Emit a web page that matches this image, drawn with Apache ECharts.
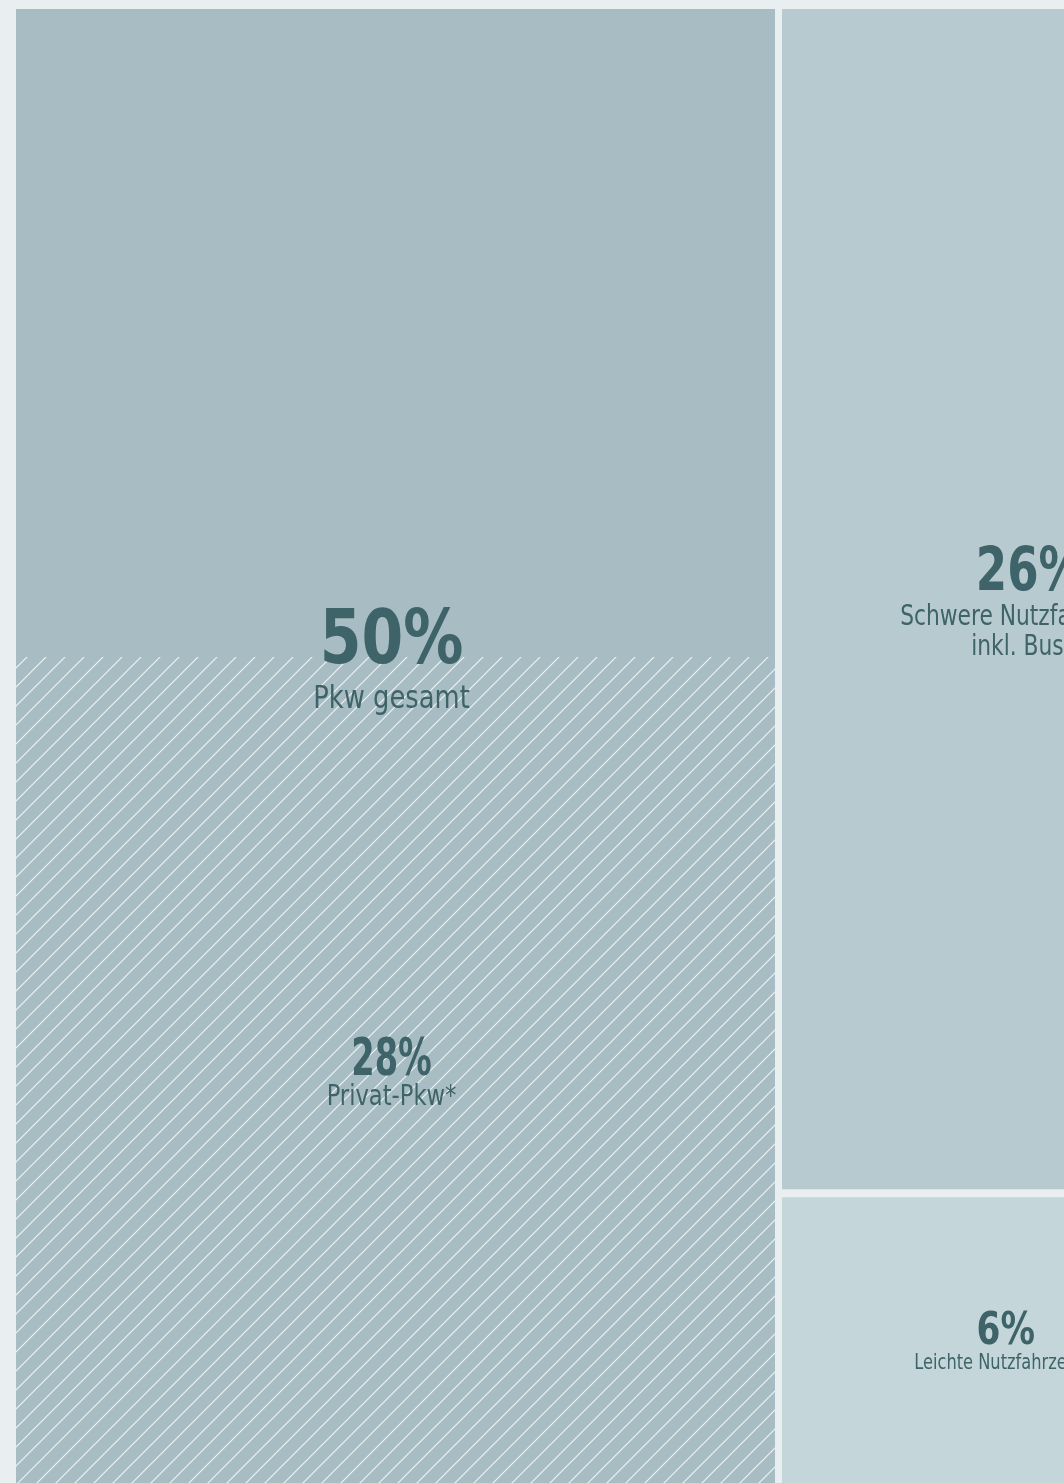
<!DOCTYPE html>
<html>
<head>
<meta charset="utf-8">
<title>Anteile</title>
<script src="https://cdn.jsdelivr.net/npm/echarts@6/dist/echarts.min.js"></script>
<style>
html, body { margin: 0; padding: 0; background: #e9eef0; overflow: hidden; }
#main { width: 1064px; height: 1483px; }
</style>
</head>
<body>
<div id="main"></div>
<script>
// Spalten: Breite = Anteil am Gesamtwert (Rest liegt rechts ausserhalb des Bildes)
const columnShares = [50, 32.8]
const totalShare = 100

// Felder
const cellNames = ['Pkw gesamt', 'Privat-Pkw*', 'Schwere Nutzfahrzeuge\ninkl. Busse', 'Leichte Nutzfahrzeuge']
const cellColumns = [0, 0, 1, 1]
const cellParents = [-1, 0, -1, -1]
const cellValues = [50, 28, 26.3, 6.5]
const cellLabels = ['50%', '28%', '26%', '6%']

const FONT = '"Liberation Sans Narrow", "DejaVu Sans Condensed", "Roboto", sans-serif'
const TEXT_COLOR = '#3e6368'
const fills = ['#a7bdc3', null, '#b7cad0', '#c5d6da']
// Beschriftung je Feld: Groesse, Stauchung, Versatz zur Mitte
const labelStyles = [
  { dx: -4, vSize: 75, vScale: 0.89, vDy: -14, nSize: 31.5, nScale: 0.91, nDy: 43, nLine: 30 },
  { dx: -4, vSize: 52, vScale: 0.72, vDy: -9, nSize: 27.5, nScale: 0.915, nDy: 28, nLine: 30 },
  { dx: 0, vSize: 60, vScale: 0.835, vDy: -25, nSize: 27.5, nScale: 0.88, nDy: 19, nLine: 30 },
  { dx: -24, vSize: 44, vScale: 0.87, vDy: -7.5, nSize: 22, nScale: 0.82, nDy: 23.5, nLine: 26 }
]

// Schraffur
function hatch() {
  const c = document.createElement('canvas')
  const s = 19
  c.width = s
  c.height = s
  const ctx = c.getContext('2d')
  ctx.strokeStyle = 'rgba(255,255,255,0.8)'
  ctx.lineWidth = 1.2
  ctx.beginPath()
  ctx.moveTo(-2, s + 2); ctx.lineTo(s + 2, -2)
  ctx.moveTo(-2, 2); ctx.lineTo(2, -2)
  ctx.moveTo(s - 2, s + 2); ctx.lineTo(s + 2, s - 2)
  ctx.stroke()
  return c
}
const hatchImg = hatch()

// Layout aus den Werten: x = kumulierter Anteil, y = Anteil innerhalb der Spalte (0..100)
const data = []
let xStart = 0
columnShares.forEach((share, col) => {
  let yTop = 100
  cellValues.forEach((v, i) => {
    if (cellColumns[i] !== col || cellParents[i] !== -1) return
    const h = v / share * 100
    data.push([xStart, xStart + share, yTop - h, yTop, i])
    yTop -= h
  })
  xStart += share
})
// Teilmengen: unten im Elternfeld
cellValues.forEach((v, i) => {
  const p = cellParents[i]
  if (p === -1) return
  const parent = data.find(d => d[4] === p)
  const h = (parent[3] - parent[2]) * v / cellValues[p]
  data.push([parent[0], parent[1], parent[2], parent[2] + h, i])
})

const myChart = echarts.init(document.getElementById('main'))

const option = {
  backgroundColor: '#e9eef0',
  animation: false,
  grid: { left: 12.5, top: 5, width: 1532, height: 1482, outerBoundsMode: 'none', containLabel: false },
  xAxis: { type: 'value', min: 0, max: totalShare, show: false },
  yAxis: { type: 'value', min: 0, max: 100, show: false },
  series: [{
    type: 'custom',
    clip: false,
    data: data,
    renderItem: function (params, api) {
      const i = api.value(4)
      const tl = api.coord([api.value(0), api.value(3)])
      const br = api.coord([api.value(1), api.value(2)])
      const child = cellParents[i] !== -1
      const x0 = tl[0] + 3.5
      const x1 = br[0] - 3.5
      const y0 = child ? tl[1] : tl[1] + 4
      const y1 = br[1] - 4
      const rect = {
        type: 'rect',
        shape: { x: x0, y: y0, width: x1 - x0, height: y1 - y0 },
        style: child
          ? { fill: { image: hatchImg, repeat: 'repeat' } }
          : { fill: fills[i] }
      }
      // Label mittig; Elternfeld mit Teilmenge: auf der Grenze
      let cy = (y0 + y1) / 2
      if (cellParents.indexOf(i) !== -1) {
        const c = data.find(d => cellParents[d[4]] === i)
        cy = api.coord([0, c[3]])[1]
      }
      const ls = labelStyles[i]
      const cx = (x0 + x1) / 2 + ls.dx
      const children = [rect, {
        type: 'text',
        z2: 10,
        x: cx,
        y: cy + ls.vDy,
        scaleX: ls.vScale,
        style: {
          text: cellLabels[i],
          align: 'center',
          verticalAlign: 'middle',
          fontFamily: FONT,
          fontWeight: 'bold',
          fontSize: ls.vSize,
          fill: TEXT_COLOR
        }
      }]
      cellNames[i].split('\n').forEach((line, k) => {
        children.push({
          type: 'text',
          z2: 10,
          x: cx,
          y: cy + ls.nDy + k * ls.nLine,
          scaleX: ls.nScale,
          style: {
            text: line,
            align: 'center',
            verticalAlign: 'middle',
            fontFamily: FONT,
            fontSize: ls.nSize,
            fill: TEXT_COLOR
          }
        })
      })
      return { type: 'group', children: children }
    }
  }]
}

myChart.setOption(option)
window.addEventListener('resize', () => {
  myChart.resize()
})
</script>
</body>
</html>
